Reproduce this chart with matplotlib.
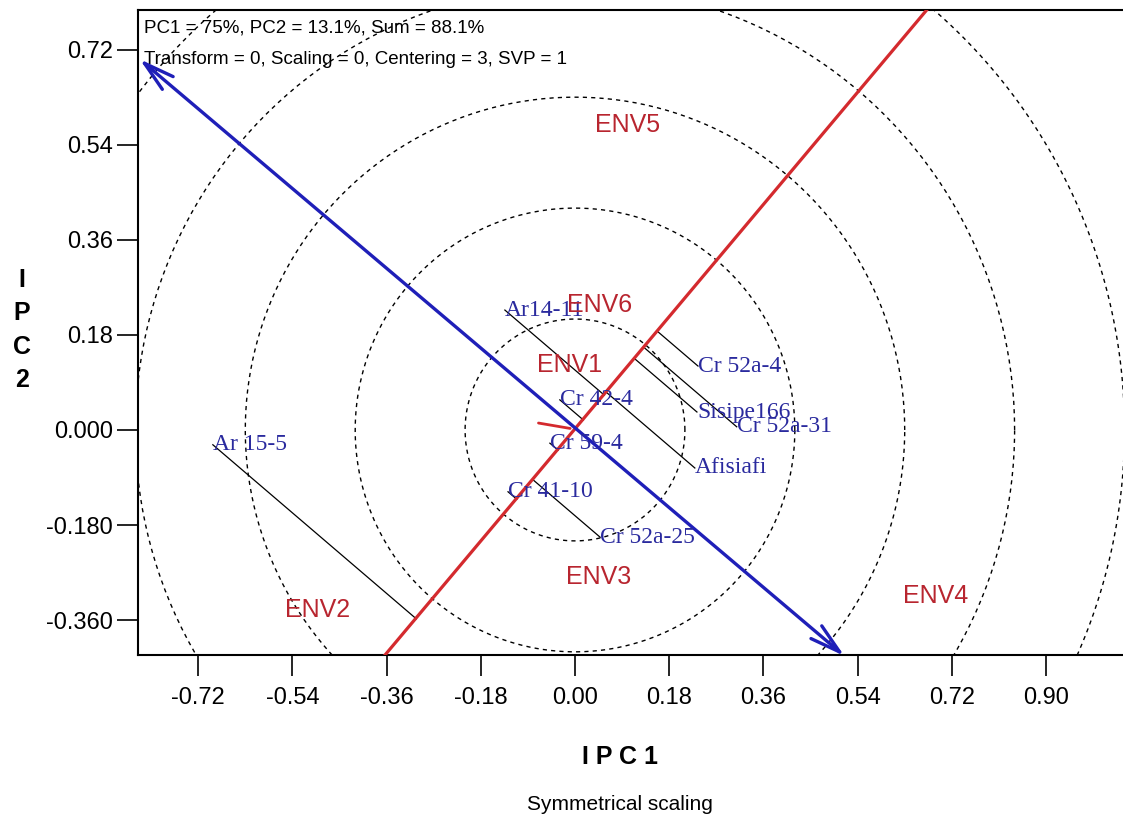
import numpy as np
import matplotlib.pyplot as plt
from matplotlib.patches import FancyArrowPatch

plt.rcParams['font.family'] = ['Liberation Sans', 'DejaVu Sans']

# genotype scores (PC1, PC2)
genotypes = ['Ar14-11', 'Cr 52a-4', 'Sisipe166', 'Cr 52a-31', 'Cr 42-4', 'Cr 59-4',
             'Afisiafi', 'Cr 41-10', 'Cr 52a-25', 'Ar 15-5']
gen_x = [-0.134, 0.235, 0.233, 0.309, -0.029, -0.048, 0.229, -0.128, 0.048, -0.692]
gen_y = [0.227, 0.121, 0.034, 0.006, 0.057, -0.025, -0.072, -0.117, -0.203, -0.028]

# environment scores
envs = ['ENV1', 'ENV2', 'ENV3', 'ENV4', 'ENV5', 'ENV6']
env_x = [-0.011, -0.491, 0.046, 0.690, 0.101, 0.046]
env_y = [0.123, -0.341, -0.278, -0.314, 0.578, 0.237]

# concentric circles around the biplot origin
circle_r = [0.21, 0.42, 0.63, 0.84, 1.05]

# average environment axis (blue, arrows at both ends) and its ordinate (red)
aec_x = [-0.832, 0.515]
aec_y = [0.702, -0.428]
ord_x = [-0.363, 0.672]
ord_y = [-0.426, 0.795]

xticks = [-0.72, -0.54, -0.36, -0.18, 0.0, 0.18, 0.36, 0.54, 0.72, 0.90]
xtick_labels = ['-0.72', '-0.54', '-0.36', '-0.18', '0.00', '0.18', '0.36', '0.54', '0.72', '0.90']
yticks = [0.72, 0.54, 0.36, 0.18, 0.0, -0.18, -0.36]
ytick_labels = ['0.72', '0.54', '0.36', '0.18', '0.000', '-0.180', '-0.360']

blue = '#1f1fb8'
red = '#d42a2e'

fig = plt.figure(figsize=(11.23, 8.25), dpi=100)
ax = fig.add_axes([138 / 1123, 170 / 825, 986 / 1123, 645 / 825])
ax.set_xlim(-0.835, 1.049)
ax.set_ylim(-0.426, 0.795)

# dashed circles
t = np.linspace(0, 2 * np.pi, 400)
for r in circle_r:
    ax.plot(r * np.cos(t), r * np.sin(t), color='black', lw=1.0,
            linestyle=(0, (3, 3)), zorder=1)

# ordinate line (red)
ax.plot(ord_x, ord_y, color=red, lw=2.3, zorder=3)

# projection of each genotype on the ordinate
u = np.array([ord_x[1] - ord_x[0], ord_y[1] - ord_y[0]])
u = u / np.linalg.norm(u)
for gx, gy in zip(gen_x, gen_y):
    d = gx * u[0] + gy * u[1]
    ax.plot([gx, d * u[0]], [gy, d * u[1]], color='black', lw=0.9, zorder=2)

# abscissa with arrows (blue)
arrow = FancyArrowPatch((aec_x[0], aec_y[0]), (aec_x[1], aec_y[1]),
                        arrowstyle='<->,head_length=22,head_width=6',
                        color=blue, lw=2.4, shrinkA=0, shrinkB=0, zorder=4,
                        clip_on=False)
ax.add_patch(arrow)

# small red arrow at the origin
ax.annotate('', xy=(-0.004, 0.002), xytext=(-0.075, 0.014),
            arrowprops=dict(arrowstyle='-', color=red, lw=2.0), zorder=5)

for name, gx, gy in zip(genotypes, gen_x, gen_y):
    ax.text(gx, gy, name, ha='left', va='center', fontsize=17,
            family='Liberation Serif', color='#2a2a9e', zorder=6)

for name, ex, ey in zip(envs, env_x, env_y):
    ax.text(ex, ey, name, ha='center', va='center', fontsize=18,
            color='#b8252f', zorder=7)

ax.text(0.006, 0.985, 'PC1 = 75%, PC2 = 13.1%, Sum = 88.1%',
        transform=ax.transAxes, ha='left', va='top', fontsize=13.5)
ax.text(0.006, 0.937, 'Transform = 0, Scaling = 0, Centering = 3, SVP = 1',
        transform=ax.transAxes, ha='left', va='top', fontsize=13.5)

ax.set_xticks(xticks)
ax.set_xticklabels(xtick_labels)
ax.set_yticks(yticks)
ax.set_yticklabels(ytick_labels)
ax.tick_params(axis='both', direction='out', length=15, width=1.2,
               labelsize=17, colors='black')
ax.tick_params(axis='x', pad=8)
ax.tick_params(axis='y', pad=3)
for s in ax.spines.values():
    s.set_linewidth(1.5)

fig.text(620 / 1123, 1 - 757 / 825, 'I P C 1', ha='center', va='center',
         fontsize=18, fontweight='bold')
fig.text(22 / 1123, 1 - 330 / 825, 'I\nP\nC\n2', ha='center', va='center',
         fontsize=18, fontweight='bold', linespacing=1.5)
fig.text(620 / 1123, 1 - 805 / 825, 'Symmetrical scaling', ha='center',
         va='center', fontsize=15)

fig.savefig('out.png', dpi=100)
